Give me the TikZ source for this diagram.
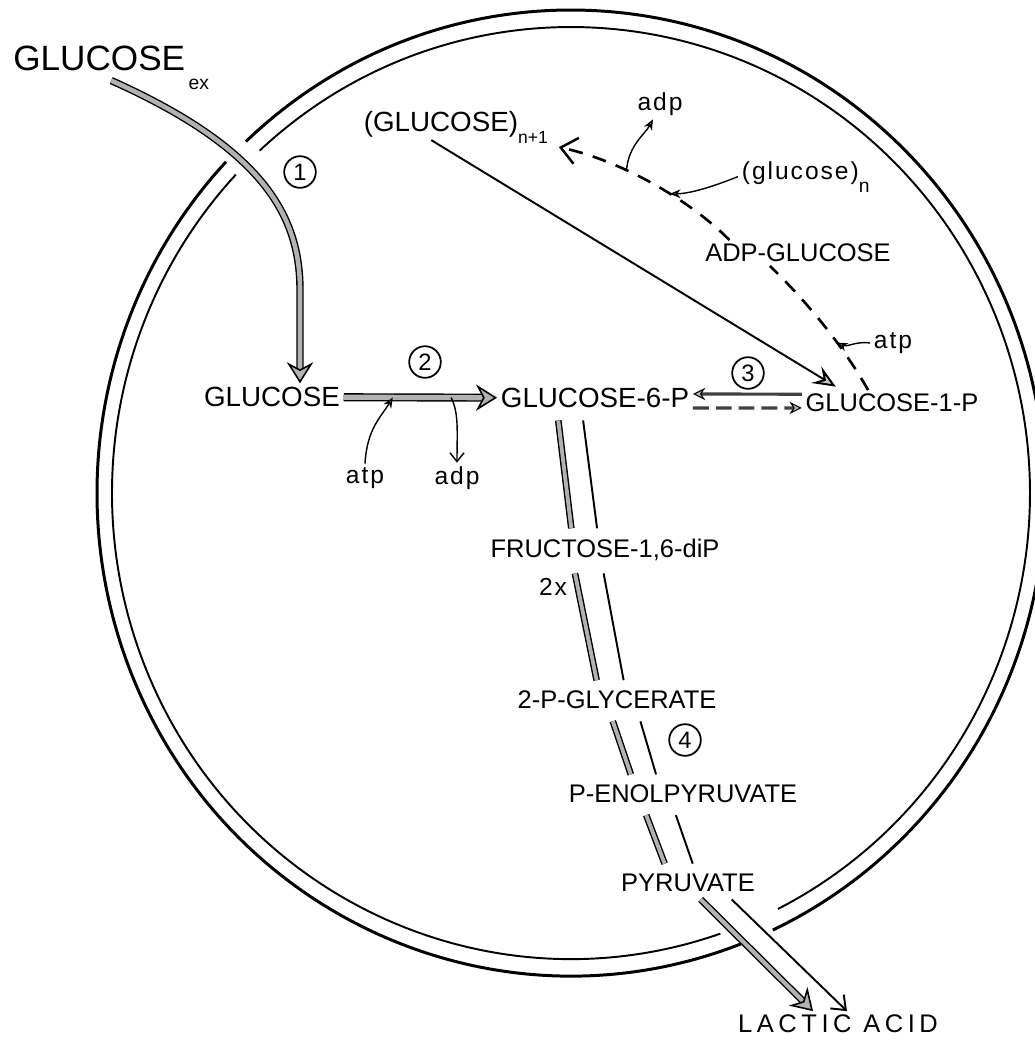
\documentclass[tikz,border=0pt]{standalone}
\usepackage{fontspec}
\setmainfont{Liberation Sans}
\usetikzlibrary{arrows.meta}
\usetikzlibrary{positioning}

\begin{document}
\begin{tikzpicture}[x=0.02cm, y=-0.02cm,
    met/.style={inner sep=2pt, font=\fontsize{14.5}{16}\selectfont},
    metbig/.style={inner sep=2pt, font=\fontsize{15.8}{18}\selectfont},
    cof/.style={inner sep=2pt, font=\fontsize{14}{16}\selectfont\addfontfeature{LetterSpace=8}},
    num/.style={circle, draw, line width=1pt, minimum size=18pt, inner sep=0pt, font=\fontsize{13.5}{14}\selectfont},
    flux/.style={draw=black, line width=0.8pt, double=gray!60, double distance=#1},
    bigtip/.style={-{Stealth[length=12pt, width=15pt, inset=4pt, fill=gray!60, line width=0.9pt]}},
    smalltip/.style={-{Stealth[length=6pt, width=5pt, fill=gray!60]}},
    vtip/.style={-{Straight Barb[length=5pt, width=8pt]}},
    cofarrow/.style={line width=0.8pt, smalltip},
    pathway/.style={line width=1.5pt, dash pattern=on 8pt off 6pt}]

        % page frame
        \useasboundingbox (0,0) rectangle (1035,1042);

        % the cell wall, two lines, open where the arrows pass
        \coordinate (cen) at (571,493);
        \draw[line width=1.7pt] ([shift={(-133.3:474 and 483)}]cen) arc[start angle=-133.3, end angle=64.8, x radius=474, y radius=483];
        \draw[line width=1.7pt] ([shift={(69:474 and 483)}]cen) arc[start angle=69, end angle=223.3, x radius=474, y radius=483];
        \draw[line width=1.1pt] ([shift={(-132.7:459 and 466)}]cen) arc[start angle=-132.7, end angle=63.2, x radius=459, y radius=466];
        \draw[line width=1.1pt] ([shift={(71:459 and 466)}]cen) arc[start angle=71, end angle=223.1, x radius=459, y radius=466];

        % metabolites
        \node[anchor=base west, inner sep=0pt, font=\fontsize{20}{22}\selectfont] (gex) at (13,70) {GLUCOSE\kern2pt\raisebox{-11pt}{\fontsize{11}{11}\selectfont ex}};
        \node[metbig] (glc) at (272,397) {GLUCOSE};
        \node[metbig] (g6p) at (595,398) {GLUCOSE-6-P};
        \node[met] (g1p) at (892,403) {GLUCOSE-1-P};
        \node[metbig, anchor=base west] (glcn1) at (360,131) {(GLUCOSE)\raisebox{-7pt}{\fontsize{10}{10}\selectfont n+1}};
        \node[met] (adpglc) at (798,253) {ADP-GLUCOSE};
        \node[met] (fru) at (605,550) {FRUCTOSE-1,6-diP};
        \node[met] (pgly) at (617,700) {2-P-GLYCERATE};
        \node[met] (pep) at (683,794) {P-ENOLPYRUVATE};
        \node[met] (pyr) at (688,883) {PYRUVATE};
        \node[met, font=\fontsize{14.5}{16}\selectfont\addfontfeature{LetterSpace=18}] (lac) at (838,1024) {LACTIC ACID};

        % cofactors
        \node[cof, anchor=base west] (glcn) at (738,179) {(glucose)\raisebox{-7.4pt}{\fontsize{11}{11}\selectfont n}};
        \node[cof] (adp1) at (660,104) {adp};
        \node[cof] (atp1) at (365,478) {atp};
        \node[cof] (adp2) at (457,478) {adp};
        \node[cof] (atp2) at (893,343) {atp};
        \node[cof] (twox) at (553,587) {2x};

        % step numbers
        \node[num] (c1) at (300,172) {1};
        \node[num] (c2) at (425,362) {2};
        \node[num] (c3) at (748,373) {3};
        \node[num] (c4) at (685,740) {4};

        % 1: uptake through the wall
        \draw[flux=2.6pt, bigtip] ([yshift=-6pt]gex.base) .. controls (262,148) and (300,215) .. (300,290) -- (c1 |- glc.north);

        % 2: phosphorylation
        \draw[flux=3pt, bigtip] (glc) -- coordinate[pos=0.32] (hk1) coordinate[pos=0.7] (hk2) (g6p);
        \draw[cofarrow] (atp1.north) .. controls +(2,-35) and +(-12,20) .. (hk1);
        \draw[line width=0.8pt, vtip] (hk2) .. controls +(8,15) and +(0,-30) .. (adp2.north);

        % 3: glucose-6-P and glucose-1-P
        \draw[line width=1.8pt, draw=black!75, -{Stealth[length=7pt, width=7pt, fill=gray!60, color=black, line width=0.6pt]}] ([yshift=5pt]g1p.west) -- ([yshift=2.3pt]g6p.east);
        \draw[line width=1.8pt, draw=black!75, dash pattern=on 9pt off 4pt, -{Stealth[length=7pt, width=7pt, fill=gray!60, color=black, line width=0.6pt]}] ([yshift=-5.7pt]g6p.east) -- ([yshift=-2.8pt]g1p.west);

        % glycogen breakdown
        \draw[line width=1.1pt, -{Stealth[length=13pt, width=11pt, inset=5pt, fill=gray!45]}] ([xshift=-14pt, yshift=4pt]glcn1.south) -- ([xshift=-32pt, yshift=2pt]g1p.north);

        % glycogen synthesis via ADP-glucose
        \draw[pathway] ([xshift=-13.6pt]g1p.north) .. controls (840,340) and (800,295) .. coordinate[pos=0.33] (ag1) ([xshift=-16pt]adpglc.south);
        \draw[pathway, -{Straight Barb[length=9pt, width=15pt, line width=1.4pt]}] ([xshift=16pt]adpglc.north west) .. controls (690,200) and (620,160) .. coordinate[pos=0.4] (gs1) coordinate[pos=0.64] (gs2) ([xshift=4pt]glcn1.south east);
        \draw[cofarrow] (atp2.west) .. controls +(-15,-2) and +(10,5) .. (ag1);
        \draw[cofarrow] (glcn.west) .. controls +(-25,10) and +(20,0) .. (gs1);
        \draw[cofarrow] (gs2) .. controls +(2,-25) and +(-8,15) .. ([xshift=-4pt]adp1.south);

        % 4: glycolysis, double track
        \foreach \a/\b/\la/\lb/\ra/\rb in {g6p/fru/-21.5/-18.7/-7.4/-4.0, fru/pgly/-18.1/-10.8/-1.7/4.5, pgly/pep/-4.0/-28.4/11.9/-14.2, pep/pyr/-22.7/-11.9/-5.7/4.0}
        {
          \draw[flux=2.2pt, shorten <=5pt, shorten >=4pt] ([xshift=\la pt]\a.south) -- ([xshift=\lb pt]\b.north);
          \draw[line width=1.1pt, shorten <=5pt, shorten >=4pt] ([xshift=\ra pt]\a.south) -- ([xshift=\rb pt]\b.north);
        }

        % out through the wall
        \draw[flux=2.4pt, bigtip, shorten <=3pt] ([xshift=5.1pt]pyr.south) -- ([xshift=-14.2pt]lac.north);
        \draw[line width=1.1pt, -{Straight Barb[length=7pt, width=11pt]}, shorten <=3pt] ([xshift=22.7pt]pyr.south) -- ([xshift=5.1pt]lac.north);
      \end{tikzpicture}
\end{document}
